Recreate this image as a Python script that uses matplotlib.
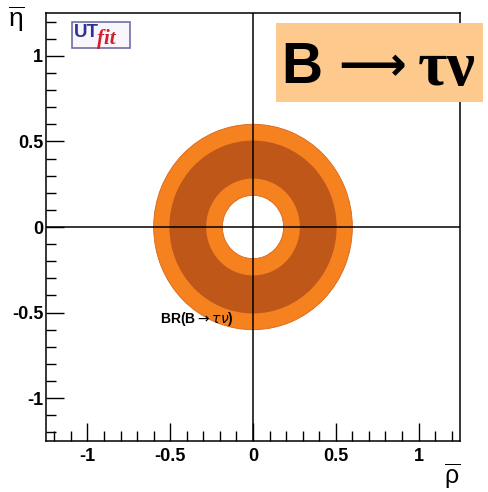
import numpy as np
import matplotlib
matplotlib.use('Agg')
import matplotlib.pyplot as plt
from matplotlib.patches import Wedge, Rectangle

plt.rcParams['font.family'] = ['Liberation Sans', 'DejaVu Sans']
plt.rcParams['mathtext.fontset'] = 'dejavusans'

# region radii around the origin (rho, eta)
centre = (0.0, 0.0)
r95 = [0.185, 0.60]     # light band (95% prob.)
r68 = [0.283, 0.505]    # dark band (68% prob.)
col95 = '#F5821F'
col68 = '#BF5719'

xlim = (-1.25, 1.25)
ylim = (-1.25, 1.25)
major = [-1, -0.5, 0, 0.5, 1]
major_lab = ['-1', '-0.5', '0', '0.5', '1']
minor = np.arange(-1.2, 1.21, 0.1)

W, H = 489, 492
fig = plt.figure(figsize=(W/100, H/100), dpi=100)
ax = fig.add_axes([46/W, 1-441/H, 414/W, 428/H])
ax.set_xlim(xlim)
ax.set_ylim(ylim)

ax.add_patch(Wedge(centre, r95[1], 0, 360, width=r95[1]-r95[0], facecolor=col95,
                   edgecolor='#D8661A', lw=0.6, zorder=1))
ax.add_patch(Wedge(centre, r68[1], 0, 360, width=r68[1]-r68[0], facecolor=col68,
                   edgecolor='none', zorder=1.1))

ax.axhline(0, color='black', lw=1.1, zorder=3)
ax.axvline(0, color='black', lw=1.1, zorder=3)

ax.text(-0.56, -0.54, r'BR(B$\rightarrow\tau\nu$)', fontsize=10, fontweight='bold',
        ha='left', va='center', zorder=4)

ax.set_xticks(major)
ax.set_xticklabels(major_lab)
ax.set_yticks(major)
ax.set_yticklabels(major_lab)
ax.set_xticks(minor, minor=True)
ax.set_yticks(minor, minor=True)
ax.tick_params(which='major', direction='in', length=13, width=1, top=False, right=False,
               labelsize=13)
ax.tick_params(axis='x', which='major', pad=5)
ax.tick_params(axis='y', which='major', pad=2)
ax.tick_params(which='minor', direction='in', length=7, width=1, top=False, right=False)
for lab in ax.get_xticklabels() + ax.get_yticklabels():
    lab.set_fontweight('bold')
for s in ax.spines.values():
    s.set_linewidth(1.1)
    s.set_zorder(10)

# axis titles
fig.text(16/W, 1-19/H, '$\\overline{\\mathregular{\u03b7}}$', fontsize=19, ha='center', va='center')
fig.text(452/W, 1-476/H, '$\\overline{\\mathregular{\u03c1}}$', fontsize=18, ha='center', va='center')

# process label box
fig.patches.append(Rectangle((276/W, 1-102/H), 207/W, 79/H, transform=fig.transFigure,
                             facecolor='#FDC98C', edgecolor='none', zorder=2))
fig.text(281/W, 1-83/H, 'B', fontsize=41, fontweight='bold', ha='left', va='baseline', zorder=3)
fig.text(338/W, 1-80/H, '\u27f6', fontsize=34, fontweight='bold', ha='left', va='baseline',
         zorder=3, family=['DejaVu Sans'])
fig.text(418/W, 1-85/H, '\u03c4\u03bd', fontsize=46, fontweight='bold', ha='left', va='baseline',
         zorder=3, family=['Liberation Serif', 'DejaVu Serif'])

# UTfit logo
fig.patches.append(Rectangle((72/W, 1-48/H), 58/W, 26/H, transform=fig.transFigure,
                             facecolor='#F8F6FB', edgecolor='#6E6FA8', lw=1.2, zorder=2))
fig.text(74/W, 1-37/H, 'UT', fontsize=13.5, fontweight='bold', color='#2E3192',
         ha='left', va='baseline', zorder=3)
fig.text(97/W, 1-44/H, 'fit', fontsize=15, style='italic', fontweight='bold', color='#D0202E',
         ha='left', va='baseline', zorder=3, family=['Liberation Serif', 'DejaVu Serif'])

fig.savefig('out.png', dpi=100)
